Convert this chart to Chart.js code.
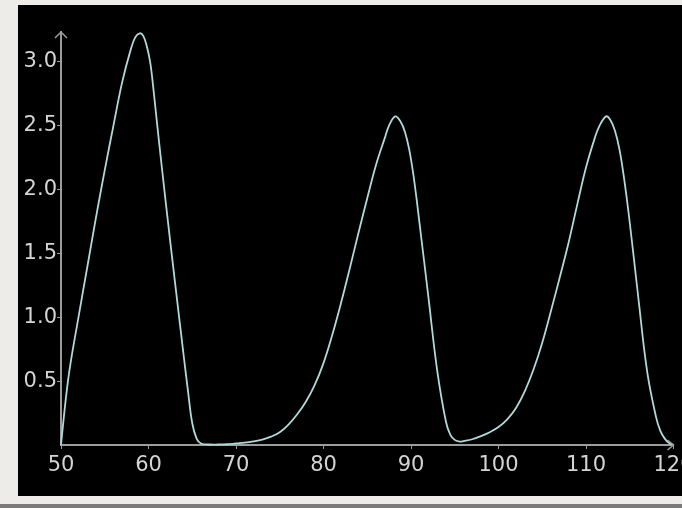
<!DOCTYPE html>
<html>
<head>
<meta charset="utf-8">
<script src="https://cdn.jsdelivr.net/npm/chart.js@4/dist/chart.umd.min.js"></script>
<style>
  html, body { margin: 0; padding: 0; background: #eeece9; width: 682px; height: 508px; overflow: hidden; }
  #plot { position: absolute; left: 18px; top: 5px; width: 664px; height: 491px; background: #000; overflow: hidden; }
  #plot canvas { position: absolute; left: 0; top: 0; }
  #bottomBar { position: absolute; left: 0; top: 504px; width: 682px; height: 4px; background: #7b7b7b; }
</style>
</head>
<body>
<div id="plot"><canvas id="curveChart" width="720" height="491"></canvas></div>
<div id="bottomBar"></div>
<script>
// values
const xValues = [50, 50.5, 51, 52, 53, 54, 55, 56, 57, 58, 58.5, 59, 59.4, 59.8, 60.2, 60.6, 61, 62, 63, 64, 64.5, 65, 65.5, 66,
  67, 68, 69, 70, 71, 72, 73, 74, 75, 76, 77, 78, 79, 80, 81, 82, 83, 84, 85, 86, 87, 87.5, 88.2, 88.8, 89.3, 89.8,
  90.3, 91, 92, 93, 94, 94.5, 95, 95.6, 96, 97, 98, 99, 100, 101, 102, 103, 104, 105, 106, 107, 108, 109, 110, 111,
  111.5, 112.3, 112.8, 113.3, 113.8, 114.3, 115, 116, 117, 118, 118.5, 119, 119.5, 120];
const yValues = [0, 0.33, 0.60, 1.00, 1.39, 1.78, 2.15, 2.50, 2.84, 3.10, 3.19, 3.22, 3.20, 3.12, 2.99, 2.76, 2.50, 1.88, 1.29, 0.71, 0.43, 0.17, 0.05, 0.012,
  0.004, 0.004, 0.006, 0.012, 0.018, 0.028, 0.042, 0.065, 0.10, 0.16, 0.24, 0.34, 0.47, 0.64, 0.86, 1.11, 1.38, 1.66, 1.93, 2.19, 2.40, 2.50, 2.57, 2.53, 2.45, 2.31,
  2.10, 1.72, 1.15, 0.58, 0.18, 0.08, 0.04, 0.026, 0.03, 0.045, 0.07, 0.10, 0.14, 0.20, 0.29, 0.42, 0.59, 0.80, 1.05, 1.31, 1.58, 1.88, 2.17, 2.40,
  2.49, 2.57, 2.54, 2.46, 2.32, 2.11, 1.74, 1.14, 0.57, 0.22, 0.11, 0.05, 0.015, 0];
const xTicks = [50, 60, 70, 80, 90, 100, 110, 120];
const yTicks = [0.5, 1.0, 1.5, 2.0, 2.5, 3.0];

const axisColor = '#9c9c9c';
const labelColor = '#d4d4d4';

// arrow heads at the ends of both axes
const axisArrows = {
  id: 'axisArrows',
  afterDraw(chart) {
    const ctx = chart.ctx;
    const a = chart.chartArea;
    ctx.save();
    ctx.strokeStyle = axisColor;
    ctx.lineWidth = 1.5;
    ctx.beginPath();
    ctx.moveTo(a.left - 6, a.top + 6);
    ctx.lineTo(a.left, a.top);
    ctx.lineTo(a.left + 6, a.top + 6);
    ctx.moveTo(a.right - 6, a.bottom - 5);
    ctx.lineTo(a.right, a.bottom);
    ctx.lineTo(a.right - 6, a.bottom + 5);
    ctx.stroke();
    ctx.restore();
  }
};

const ctx = document.getElementById('curveChart');

new Chart(ctx, {
  type: 'line',
  data: {
    datasets: [{
      data: xValues.map((x, i) => ({ x: x, y: yValues[i] })),
      borderColor: '#aedada',
      borderWidth: 1.8,
      pointRadius: 0,
      tension: 0.4,
      clip: 6
    }]
  },
  options: {
    responsive: false,
    animation: false,
    layout: {
      padding: { left: 0, top: 27, right: 64.5, bottom: 0 }
    },
    plugins: {
      legend: { display: false },
      tooltip: { enabled: false }
    },
    scales: {
      x: {
        type: 'linear',
        min: 50,
        max: 120,
        afterFit: scale => { scale.height = 51; },
        afterBuildTicks: scale => { scale.ticks = xTicks.map(v => ({ value: v })); },
        border: { display: true, color: axisColor, width: 2 },
        grid: { drawOnChartArea: false, drawTicks: true, tickLength: 4, color: axisColor },
        ticks: {
          color: labelColor,
          padding: 4,
          maxRotation: 0,
          font: { family: 'DejaVu Sans', size: 21 },
          callback: v => String(v)
        }
      },
      y: {
        min: 0,
        max: 3.23,
        afterFit: scale => { scale.width = 43; },
        afterBuildTicks: scale => { scale.ticks = yTicks.map(v => ({ value: v })); },
        border: { display: true, color: axisColor, width: 2 },
        grid: { drawOnChartArea: false, drawTicks: true, tickLength: 4, color: axisColor },
        ticks: {
          color: labelColor,
          padding: 0,
          font: { family: 'DejaVu Sans', size: 21 },
          callback: v => v.toFixed(1)
        }
      }
    }
  },
  plugins: [axisArrows]
});
</script>
</body>
</html>
